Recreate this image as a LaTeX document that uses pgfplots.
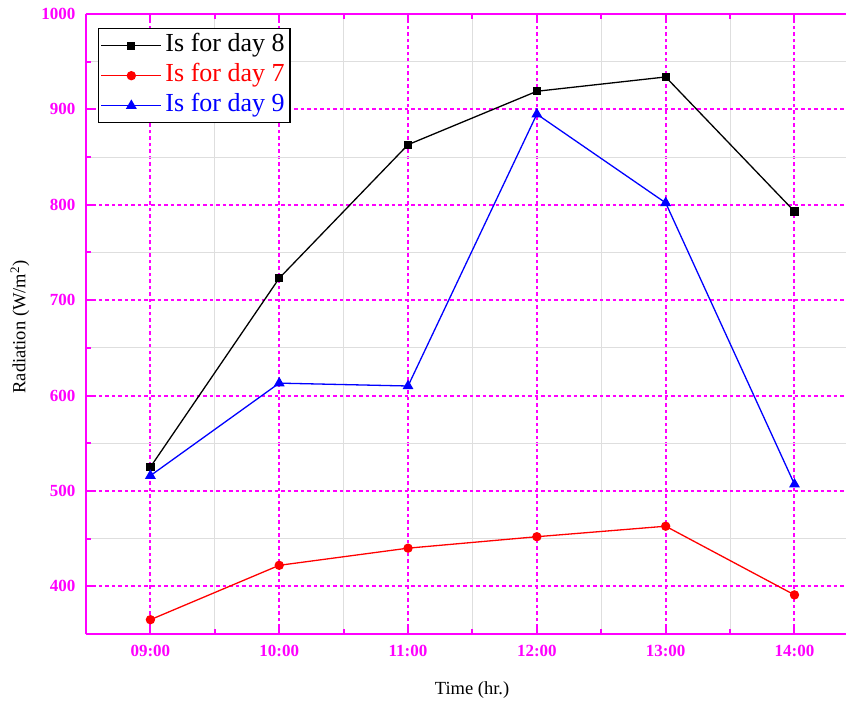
\documentclass[border=0pt]{standalone}
\usepackage{pgfplots}
\pgfplotsset{compat=1.18}
\usepackage{fontspec}
\setmainfont{Liberation Serif}
\definecolor{mag}{RGB}{255,0,255}
\definecolor{mgrid}{RGB}{222,222,222}
\begin{document}
\begin{tikzpicture}
\useasboundingbox (-86pt,-68pt) rectangle (760pt,634pt);
\begin{axis}[
  at={(0pt,0pt)}, anchor=south west,
  scale only axis, width=760pt, height=620pt,
  xmin=8.5, xmax=14.4, ymin=350, ymax=1000,
  axis x line*=box, axis y line*=left,
  axis line style={mag, line width=2.6pt},
  xtick={9,10,11,12,13,14},
  xticklabels={09:00,10:00,11:00,12:00,13:00,14:00},
  ytick={400,500,600,700,800,900,1000},
  minor x tick num=1, minor y tick num=1,
  tick align=inside,
  major tick length=8pt, minor tick length=5pt,
  every tick/.style={mag, line width=2pt},
  grid=both,
  major grid style={draw=mag, line width=2pt, dash pattern=on 3.5pt off 3pt},
  minor grid style={draw=mgrid, line width=1pt},
  /pgf/number format/assume math mode=true,
  /pgf/number format/1000 sep={},
  tick label style={font=\fontsize{17}{20}\selectfont\bfseries, text=mag},
  yticklabel style={xshift=-7pt},
  xticklabel style={yshift=-8pt},
  xlabel={Time (hr.)},
  ylabel={Radiation (W/m\textsuperscript{2})},
  label style={font=\fontsize{18.5}{22}\selectfont},
  xlabel style={at={(axis description cs:0.508,-0.0903)}, anchor=center},
  ylabel style={at={(axis description cs:-0.0868,0.495)}, anchor=center},
  legend cell align=left,
  legend image code/.code={\draw[mark repeat=2,mark phase=2,#1] plot coordinates {(0pt,0pt) (30pt,0pt) (60pt,0pt)};},
  legend style={at={(0,1)}, anchor=north west, xshift=12pt, yshift=-14pt,
    draw=black, line width=1.4pt, fill=white,
    font=\fontsize{26}{30}\selectfont,
    inner xsep=2pt, inner ysep=2pt, row sep=0pt,
    nodes={inner xsep=3.5pt, inner ysep=2pt, text height=19pt, text depth=7pt}},
]
\addplot[black, line width=1.3pt, mark=square*, mark size=3.5pt, mark options={solid}]
  coordinates {(9,525) (10,723) (11,863) (12,919) (13,934) (14,793)};
\addlegendentry{\textcolor{black}{Is for day 8}}
\addplot[red, line width=1.3pt, mark=*, mark size=4pt, mark options={solid}]
  coordinates {(9,365) (10,422) (11,440) (12,452) (13,463) (14,391)};
\addlegendentry{\textcolor{red}{Is for day 7}}
\addplot[blue, line width=1.3pt, mark=triangle*, mark size=5pt, mark options={solid}]
  coordinates {(9,516) (10,613) (11,610) (12,895) (13,802) (14,507)};
\addlegendentry{\textcolor{blue}{Is for day 9}}
\end{axis}
\end{tikzpicture}
\end{document}
